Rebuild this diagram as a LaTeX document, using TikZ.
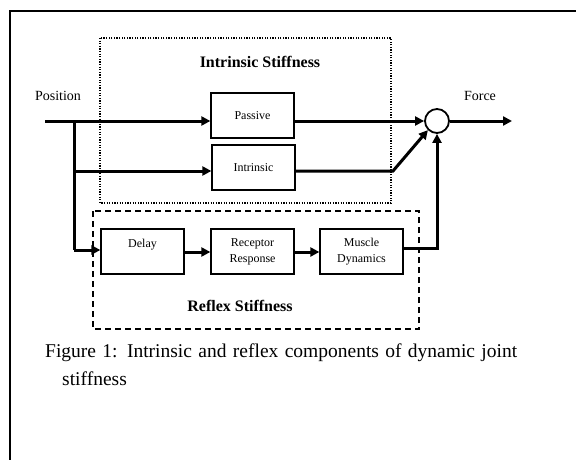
\documentclass[tikz,border=0pt]{standalone}
\usepackage{fontspec}
\setmainfont{Liberation Serif}
\usetikzlibrary{arrows.meta}

\begin{document}
\begin{tikzpicture}[x=1pt,y=-1pt,
  blk/.style={draw,line width=1.3pt,minimum width=83pt,minimum height=45pt,
    inner sep=0pt,align=center,font=\fontsize{12}{16}\selectfont},
  sig/.style={line width=3pt,-{Triangle[length=9pt,width=9pt]}},
  wire/.style={line width=3pt},
  lbl/.style={inner sep=0pt,font=\fontsize{14}{16}\selectfont},
  head/.style={inner sep=0pt,font=\fontsize{16}{18}\selectfont\bfseries},
  capt/.style={inner sep=0pt,anchor=west,font=\fontsize{19.5}{22}\selectfont}]

\useasboundingbox (0,0) rectangle (576,460);

% outer frame (open on the right and bottom)
\draw[line width=1.5pt] (590,11) -- (10,11) -- (10,470);

% grouping boxes
\draw[line width=1.2pt,dash pattern=on 1.2pt off 1.4pt] (100,38) rectangle (391,203);
\draw[line width=1.3pt,dash pattern=on 6pt off 4pt] (93,211) rectangle (419,329);

\node[head] (ihead) at (260,62) {Intrinsic Stiffness};
\node[head] (rhead) at (240,306) {Reflex Stiffness};

% blocks
\node[blk] (passive) at (252.5,115.5) {Passive};
\node[blk] (intr)    at (253.5,167.5) {Intrinsic};
\node[blk] (delay)   at (142.5,251.5) {Delay\\\mbox{}};
\node[blk] (recep)   at (252.5,251.5) {Receptor\\Response};
\node[blk] (muscle)  at (361.5,251.5) {Muscle\\Dynamics};
\node[draw,circle,line width=1.8pt,minimum size=24pt,inner sep=0pt] (sum) at (437,121) {};

% terminal labels
\node[lbl] (poslbl) at (58,96) {Position};
\node[lbl] (forcelbl) at (480,96) {Force};

% signal path points
\coordinate (pos) at (45,121);
\coordinate (split) at (74,121);
\coordinate (ibr) at (74,171);
\coordinate (dbr) at (74,250);
\coordinate (chain) at (0,252);
\coordinate (bend) at (393,171);
\coordinate (fb) at (437,248);
\coordinate (out) at (512,121);

% input branches
\draw[sig] (pos) -- (pos -| passive.west);
\draw[wire] (split) -- (dbr);
\draw[sig] (ibr) -- (ibr -| intr.west);
\draw[sig] (dbr) -- (dbr -| delay.west);

% reflex chain
\draw[sig] (delay.east |- chain) -- (recep.west |- chain);
\draw[sig] (recep.east |- chain) -- (muscle.west |- chain);

% outputs into the summing junction
\draw[sig] (passive.east |- sum) -- (sum.west);
\draw[sig,line join=miter] (intr.east |- bend) -- (bend) -- (sum.south west);
\draw[sig,line join=miter] (muscle.east |- fb) -- (fb) -- (sum.south);
\draw[sig] (sum.east) -- (out);

% caption
\node[capt] (cap1) at (45,353) {\makebox[472pt][s]{Figure 1: Intrinsic and reflex components of dynamic joint}};
\node[capt] (cap2) at (62,379) {stiffness};
\end{tikzpicture}
\end{document}
